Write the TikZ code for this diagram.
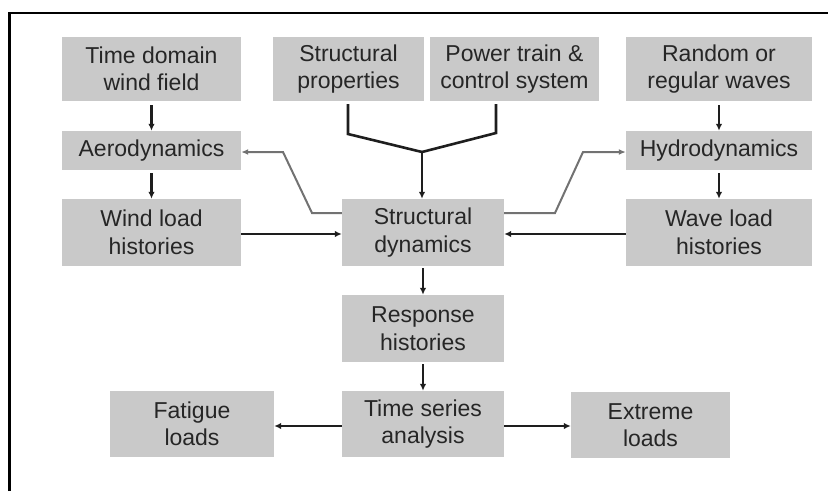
\documentclass[tikz,border=0pt]{standalone}
\usepackage{fontspec}
\setmainfont{Liberation Sans}
\usetikzlibrary{arrows.meta}
\definecolor{boxgray}{HTML}{C9C9C9}
\definecolor{inkgray}{HTML}{262626}
\definecolor{linegray}{HTML}{1E1E1E}
\definecolor{feedgray}{HTML}{727272}
\tikzset{
  blk/.style={fill=boxgray, draw=none, inner sep=0pt, align=center,
    text=inkgray, font=\fontsize{23}{27.5}\selectfont},
  flow/.style={draw=linegray, line width=2.6pt,
    -{Latex[length=7pt,width=6.5pt]}},
  plain/.style={draw=linegray, line width=2.6pt},
  feed/.style={draw=feedgray, line width=2pt,
    -{Latex[length=7pt,width=6pt]}},
}
% place a box from its corners (x1,y1) to (x2,y2), in pixel units
\newcommand{\bx}[6]{%
  \node[blk, minimum width={#4-#2}, minimum height={#5-#3}]
    (#1) at ({(#2+#4)/2},{(#3+#5)/2}) {#6};}
\begin{document}
\begin{tikzpicture}[x=1pt, y=-1pt]
\useasboundingbox (0,0) rectangle (828,491);
% frame (top and left edges)
\draw[line width=2.6pt, black] (9.5,491) -- (9.5,13) -- (828,13);

% boxes
\bx{wind}{62}{37}{241}{101}{Time domain\\wind field}
\bx{aero}{62}{131}{241}{170}{Aerodynamics}
\bx{wload}{62}{199}{241}{266}{Wind load\\histories}
\bx{sprop}{273}{37}{424}{101}{Structural\\properties}
\bx{power}{430}{37}{599}{101}{Power train \&\\control system}
\bx{waves}{626}{37}{812}{101}{Random or\\regular waves}
\bx{hydro}{626}{131}{812}{170}{Hydrodynamics}
\bx{wvload}{626}{199}{812}{266}{Wave load\\histories}
\bx{sdyn}{342}{199}{504}{266}{Structural\\dynamics}
\bx{resp}{342}{295}{504}{362}{Response\\histories}
\bx{tsa}{342}{391}{504}{457}{Time series\\analysis}
\bx{fat}{110}{391}{274}{457}{Fatigue\\loads}
\bx{ext}{571}{392}{730}{458}{Extreme\\loads}

% junction of the two inputs above the structural dynamics box
\coordinate (join) at (422,152);

% vertical chains
\draw[flow] (wind.south) ++(0,4) -- (aero.north);
\draw[flow] (aero.south) ++(0,3) -- (wload.north);
\draw[flow] (waves.south) ++(0,4) -- (hydro.north);
\draw[flow] (hydro.south) ++(0,3) -- (wvload.north);
\draw[flow] (sdyn.south) ++(0,2) -- (resp.north);
\draw[flow] (resp.south) ++(0,2) -- (tsa.north);

% inputs merging into structural dynamics
\draw[plain, line join=miter] (sprop.south -| 348,0) ++(0,3) -- (348,134) -- (join);
\draw[plain, line join=miter] (power.south -| 496,0) ++(0,3) -- (496,133) -- (join);
\draw[flow] (join) -- (join |- sdyn.north);

% loads into structural dynamics
\draw[flow] (wload.east |- 0,234) -- (sdyn.west |- 0,234);
\draw[flow] (wvload.west |- 0,234) -- (sdyn.east |- 0,234);

% feedback to aero- and hydrodynamics
\draw[feed] (sdyn.west |- 0,213) -- (312,213) -- (283,152) -- (aero.east |- 0,152);
\draw[feed] (sdyn.east |- 0,213) -- (555,213) -- (583,152) -- (hydro.west |- 0,152);

% post-processing
\draw[flow] (tsa.west |- 0,426) -- (fat.east |- 0,426);
\draw[flow] (tsa.east |- 0,426) -- (ext.west |- 0,426);
\end{tikzpicture}
\end{document}
